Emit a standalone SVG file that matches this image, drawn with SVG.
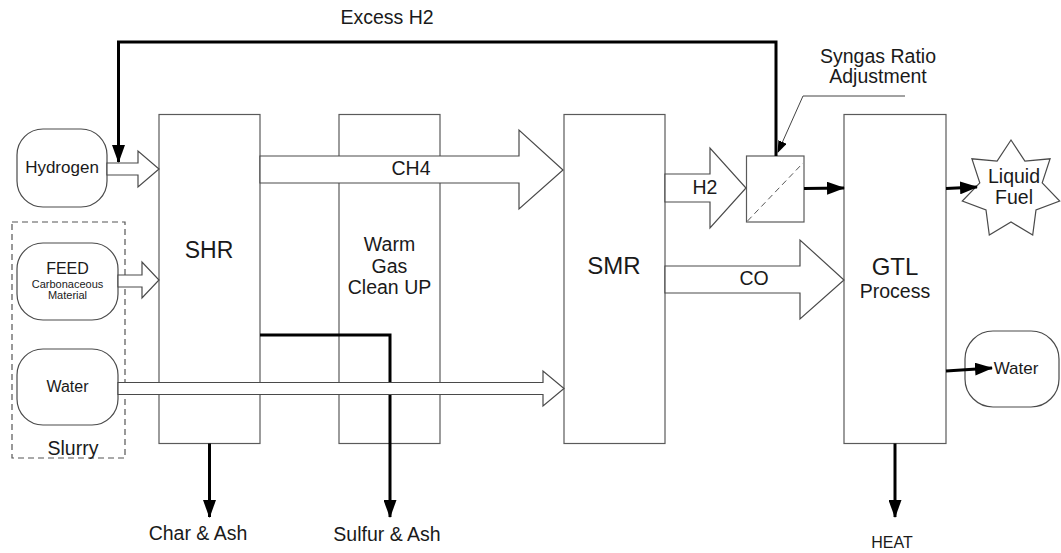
<svg xmlns="http://www.w3.org/2000/svg" width="1061" height="553" viewBox="0 0 1061 553">
<defs>
<marker id="ah" markerUnits="userSpaceOnUse" markerWidth="18" markerHeight="13" refX="17" refY="6.5" orient="auto">
<path d="M0,0 L18,6.5 L0,13 Z" fill="#000"/>
</marker>
<marker id="ahs" markerUnits="userSpaceOnUse" markerWidth="12" markerHeight="9" refX="11" refY="4.5" orient="auto">
<path d="M0,0 L12,4.5 L0,9 Z" fill="#000"/>
</marker>
<style>
text{font-family:"Liberation Sans",Arial,sans-serif;fill:#1a1a1a;text-anchor:middle}
.box{fill:#fff;stroke:#5a5a5a;stroke-width:1.2}
.term{fill:#fff;stroke:#4a4a4a;stroke-width:1.2}
.blk{fill:#fff;stroke:#4a4a4a;stroke-width:1.2;stroke-linejoin:miter}
.thick{fill:none;stroke:#000;stroke-width:3}
.thin{fill:none;stroke:#444;stroke-width:1}
.l{font-size:19.5px}
.big{font-size:24px}
</style>
</defs>
<rect width="1061" height="553" fill="#fff"/>

<g id="slurry">
<rect x="12" y="222" width="113" height="236" fill="none" stroke="#555" stroke-width="1.2" stroke-dasharray="6,4"/>
<text class="l" x="73" y="455">Slurry</text>
</g>

<g id="hydrogen">
<rect class="term" x="17" y="129" width="90" height="78" rx="26"/>
<text x="62" y="173" style="font-size:17px">Hydrogen</text>
</g>

<g id="feed">
<rect class="term" x="17" y="243" width="101" height="77" rx="26"/>
<text x="67.5" y="274" style="font-size:16px">FEED</text>
<text x="67.5" y="288" style="font-size:11px">Carbonaceous</text>
<text x="67.5" y="299" style="font-size:11px">Material</text>
</g>

<g id="water-in">
<rect class="term" x="17" y="349" width="101" height="76" rx="26"/>
<text x="67.5" y="392" style="font-size:16px">Water</text>
</g>

<g id="shr">
<rect class="box" x="159" y="114.5" width="101" height="329"/>
<text x="209" y="258" style="font-size:23px">SHR</text>
</g>

<g id="wgcu">
<rect class="box" x="339" y="114.5" width="101" height="329"/>
<text class="l" x="389.5" y="251">Warm</text>
<text class="l" x="389.5" y="273">Gas</text>
<text class="l" x="389.5" y="294">Clean UP</text>
</g>

<g id="smr">
<rect class="box" x="564" y="114.5" width="101" height="329"/>
<text class="big" x="614" y="274">SMR</text>
</g>

<g id="gtl">
<rect class="box" x="844" y="114.5" width="102" height="329"/>
<text class="big" x="895" y="275">GTL</text>
<text class="l" x="895" y="298">Process</text>
</g>

<g id="syngas">
<rect class="box" x="746.5" y="156" width="57.5" height="66"/>
<line x1="747.5" y1="221" x2="803" y2="163" stroke="#555" stroke-width="1" stroke-dasharray="6,4"/>
</g>

<g id="liquid-fuel">
<polygon class="term" points="1011,140 1024.9,161.2 1050.1,158.8 1042.2,182.9 1059.7,201.1 1036,210 1032.7,235.1 1011,222 989.3,235.1 986,210 962.3,201.1 979.8,182.9 971.9,158.8 997.1,161.2"/>
<text class="l" x="1014" y="183">Liquid</text>
<text class="l" x="1014" y="204">Fuel</text>
</g>

<g id="water-out">
<rect class="term" x="965" y="331" width="94" height="76" rx="28"/>
<text x="1016" y="374" style="font-size:17px">Water</text>
</g>

<g id="labels">
<text class="l" x="387" y="24">Excess H2</text>
<text class="l" x="878" y="63">Syngas Ratio</text>
<text class="l" x="878" y="83">Adjustment</text>
<text class="l" x="198" y="540">Char &amp; Ash</text>
<text class="l" x="387" y="541">Sulfur &amp; Ash</text>
<text x="892" y="548" style="font-size:16px">HEAT</text>
</g>

<g id="connectors">
<polyline class="thick" points="776,156 776,42 118.5,42 118.5,162" marker-end="url(#ah)"/>
<line class="thick" x1="209.5" y1="443.5" x2="209.5" y2="517" marker-end="url(#ah)"/>
<polyline class="thick" points="260,335 390,335 390,517" marker-end="url(#ah)"/>
<line class="thick" x1="804" y1="188.5" x2="844" y2="188" marker-end="url(#ah)"/>
<line class="thick" x1="946" y1="188.5" x2="977" y2="187" marker-end="url(#ah)"/>
<line class="thick" x1="946" y1="371" x2="992" y2="368" marker-end="url(#ah)"/>
<line class="thick" x1="895" y1="443.5" x2="895" y2="517" marker-end="url(#ah)"/>
<polyline class="thin" points="905,96 803,96 778,152" marker-end="url(#ahs)"/>
<polygon class="blk" points="107,163 138,163 138,151 159,169 138,187 138,175 107,175"/>
<polygon class="blk" points="118,275 142,275 142,262 159,280 142,298 142,287 118,287"/>
<polygon class="blk" points="118,382.5 543,382.5 543,371 564,388.5 543,406 543,394.5 118,394.5"/>
<polygon class="blk" points="260,156 519,156 519,130 563,170 519,209 519,183 260,183"/>
<polygon class="blk" points="665,174 710,174 710,148 746,188 710,228 710,202 665,202"/>
<polygon class="blk" points="665,266 800,266 800,240 844,280 800,319 800,293 665,293"/>
<text class="l" x="411" y="175">CH4</text>
<text class="l" x="705" y="194">H2</text>
<text class="l" x="754" y="285">CO</text>
</g>
</svg>
